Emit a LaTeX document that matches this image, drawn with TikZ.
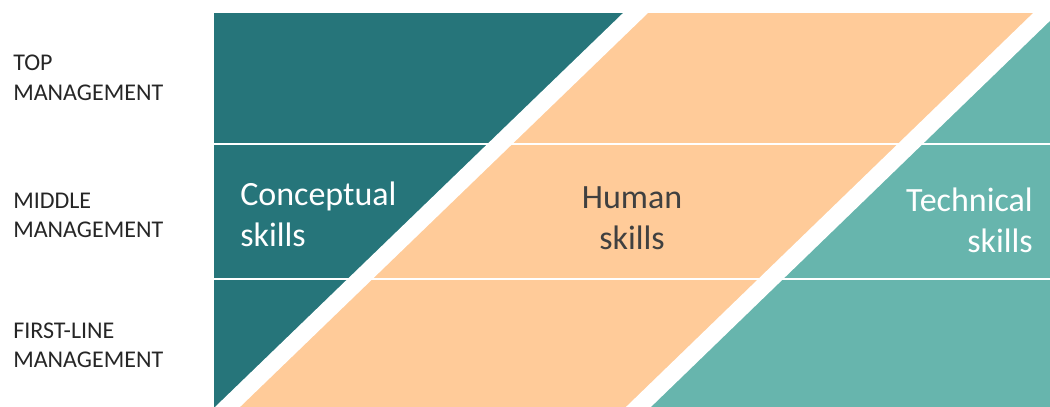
\documentclass[tikz,border=0pt]{standalone}
\usepackage{fontspec}
\setmainfont{Carlito}

\definecolor{darkteal}{HTML}{26757A}
\definecolor{lightteal}{HTML}{67B5AD}
\definecolor{peach}{HTML}{FFCB99}
\definecolor{labelgray}{HTML}{262626}
\definecolor{humangray}{HTML}{404040}

\newcommand{\levelfont}{\fontsize{18}{21.75}\selectfont}
\newcommand{\skillfont}{\fontsize{25.5}{30.75}\selectfont}

\begin{document}
\begin{tikzpicture}[x=0.75pt, y=-0.75pt,
    level/.style={anchor=west, inner sep=0pt, text=labelgray, font=\levelfont},
    skill/.style={inner sep=0pt, font=\skillfont}]

    \useasboundingbox (0,0) rectangle (1050,407);

    \begin{scope}
        \clip (214,13) rectangle (1050,407);
        \fill [peach] (214,13) rectangle (1050,407);
        \fill [darkteal] (200,-20) -- (669.7,-20) -- (193.3,440) -- cycle;
        \fill [lightteal] (1079.7,-20) -- (1100,-20) -- (1100,440) -- (604.3,440) -- cycle;

        % diagonal white bands
        \draw [white, line width=13pt] (669.7,-20) -- (193.3,440);
        \draw [white, line width=13pt] (1079.7,-20) -- (604.3,440);

        % row separators
        \draw [white, line width=1.9pt] (214,144) -- (1050,144);
        \draw [white, line width=1.9pt] (214,279) -- (1050,279);
    \end{scope}

    \node [level] (top) at (13,79.7) {\begin{tabular}{@{}l@{}}TOP\\MANAGEMENT\end{tabular}};
    \node [level] (middle) at (13,216.7) {\begin{tabular}{@{}l@{}}MIDDLE\\MANAGEMENT\end{tabular}};
    \node [level] (first) at (13,346.7) {\begin{tabular}{@{}l@{}}FIRST-LINE\\MANAGEMENT\end{tabular}};

    \node [skill, anchor=west, text=white] (concept) at (240,217.5) {\begin{tabular}{@{}l@{}}Conceptual\\skills\end{tabular}};
    \node [skill, text=humangray] (human) at (632,220.7) {\begin{tabular}{@{}c@{}}Human\\skills\end{tabular}};
    \node [skill, anchor=east, text=white] (tech) at (1033,224) {\begin{tabular}{@{}r@{}}Technical\\skills\end{tabular}};

\end{tikzpicture}
\end{document}
